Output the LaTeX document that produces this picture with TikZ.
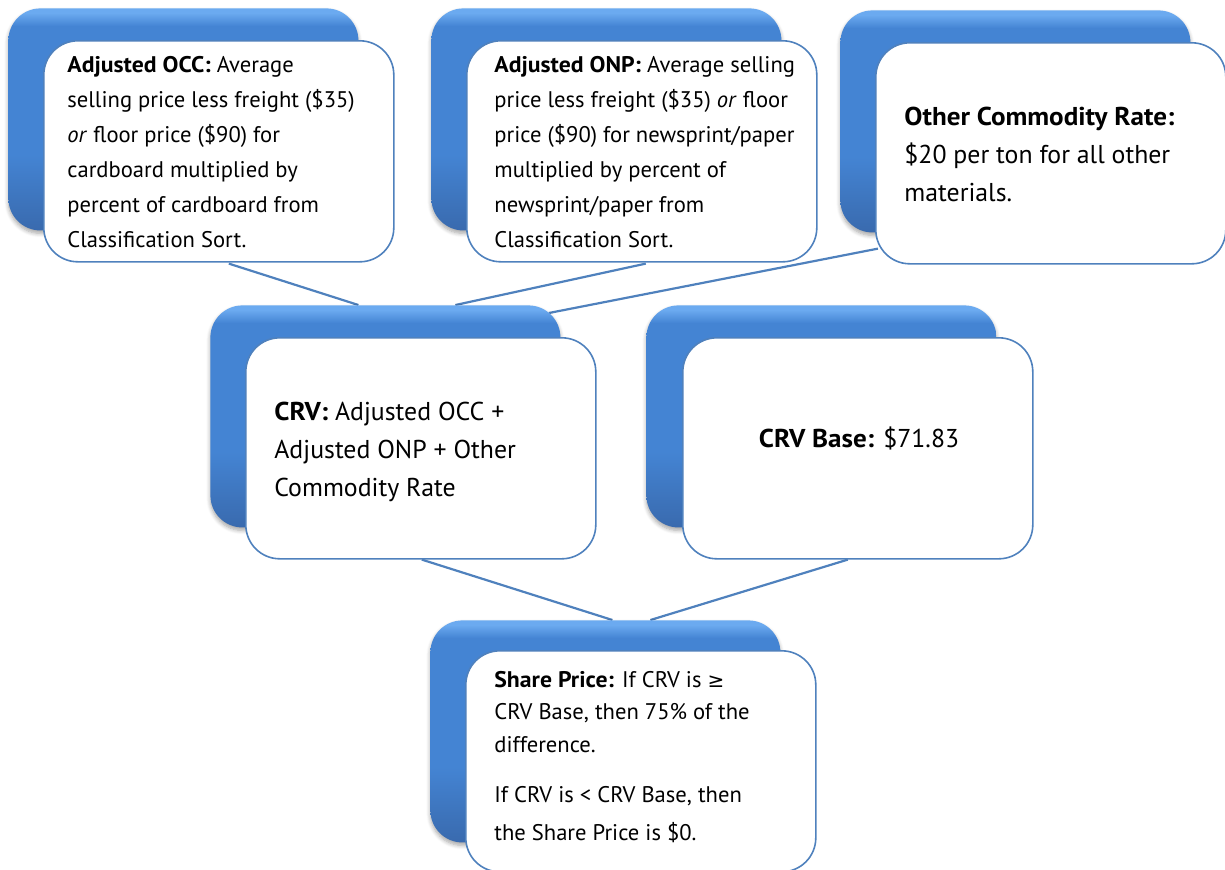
\documentclass[tikz,border=0pt]{standalone}
\usepackage{fontspec}
\setmainfont{PT Sans}[BoldFeatures={FakeStretch=1.05}]
\newfontfamily\symfont{DejaVu Sans}
\usetikzlibrary{calc,shadows.blur}
\definecolor{linkblue}{HTML}{4F81BD}
\definecolor{blueHi}{HTML}{6BAAF0}
\definecolor{blueMid}{HTML}{4484D3}
\definecolor{blueBot}{HTML}{396AAE}
\pgfdeclareverticalshading{boxblue}{100bp}{color(0bp)=(blueBot); color(25bp)=(blueBot);
  color(42bp)=(blueMid); color(71bp)=(blueMid); color(74bp)=(blueHi); color(75bp)=(blueHi);
  color(100bp)=(blueHi)}
\pgfdeclarelayer{background}
\pgfsetlayers{background,main}
\newcommand{\smalltext}{\fontsize{11.3}{17.5}\selectfont}
\newcommand{\sharetext}{\fontsize{11.3}{16.25}\selectfont}
\newcommand{\bigtext}{\fontsize{12.9}{19}\selectfont}
\newcommand{\geqsign}{{\symfont\fontsize{10}{10}\selectfont ≥}}
\tikzset{
  backbox/.style={rounded corners=16pt, minimum width=175pt, minimum height=111pt,
    anchor=north west, inner sep=0pt, shading=boxblue,
    blur shadow={shadow xshift=0pt, shadow yshift=-1.5pt, shadow blur steps=6, shadow opacity=35}},
  frontbox/.style={rounded corners=17pt, minimum width=175pt, minimum height=110.5pt,
    anchor=north west, inner sep=0pt, fill=white, draw=linkblue, line width=0.8pt},
  label/.style={anchor=base west, inner sep=0pt, text=black},
  link/.style={draw=linkblue, line width=1.1pt}
}
\begin{document}
\begin{tikzpicture}[x=0.5pt, y=-0.5pt]
\useasboundingbox (0,0) rectangle (1225,869);

% top row
\node[backbox] (occback) at (8,8) {};
\node[frontbox] (occ) at (43,40) {};
\node[label] (occtxt) at (67,72) {\parbox[t]{165pt}{\smalltext\textbf{Adjusted OCC:} Average\\
selling price less freight (\$35)\\
\textit{or} floor price (\$90) for\\
cardboard multiplied by\\
percent of cardboard from\\
Classification Sort.}};

\node[backbox] (onpback) at (431,8) {};
\node[frontbox] (onp) at (466,40) {};
\node[label] (onptxt) at (494,72) {\parbox[t]{165pt}{\smalltext\textbf{Adjusted ONP:} Average selling\\
price less freight (\$35) \textit{or} floor\\
price (\$90) for newsprint/paper\\
multiplied by percent of\\
newsprint/paper from\\
Classification Sort.}};

\node[backbox] (othback) at (840,10) {};
\node[frontbox] (oth) at (875,42) {};
\node[label] (othtxt) at (904,125) {\parbox[t]{165pt}{\bigtext\textbf{Other Commodity Rate:}\\
\$20 per ton for all other\\
materials.}};

% middle row
\node[backbox] (crvback) at (210,305) {};
\node[frontbox] (crv) at (245,337) {};
\node[label] (crvtxt) at (274,420) {\parbox[t]{165pt}{\bigtext\textbf{CRV:} Adjusted OCC +\\
Adjusted ONP + Other\\
Commodity Rate}};

\node[backbox] (baseback) at (646,305) {};
\node[frontbox] (base) at (682,337) {};
\node[anchor=base, inner sep=0pt] (basetxt) at (859,447) {\bigtext\textbf{CRV Base:} \$71.83};

% bottom row
\node[backbox] (shareback) at (430,620) {};
\node[frontbox] (share) at (465,650) {};
\node[label] (sharetxt) at (494,687) {\parbox[t]{165pt}{\sharetext\textbf{Share Price:} If CRV is \geqsign\\
CRV Base, then 75\% of the\\
difference.\par\vspace{8.75pt}
If CRV is < CRV Base, then\\[2.75pt]
the Share Price is \$0.}};

% connectors
\begin{pgfonlayer}{background}
\draw[link] ($(occ.south)+(10,1)$) -- ($(crvback.north)+(-27,0)$);
\draw[link] ($(onp.south)+(4,1)$) -- ($(crvback.north)+(70,0)$);
\draw[link] ($(oth.south west)+(3,-16)$) -- ($(crvback.north east)+(-12,8)$);
\draw[link] ($(crv.south)+(1,0)$) -- ($(shareback.north)+(7,0)$);
\draw[link] ($(base.south)+(-10,0)$) -- ($(shareback.north)+(45,0)$);
\end{pgfonlayer}
\end{tikzpicture}
\end{document}
